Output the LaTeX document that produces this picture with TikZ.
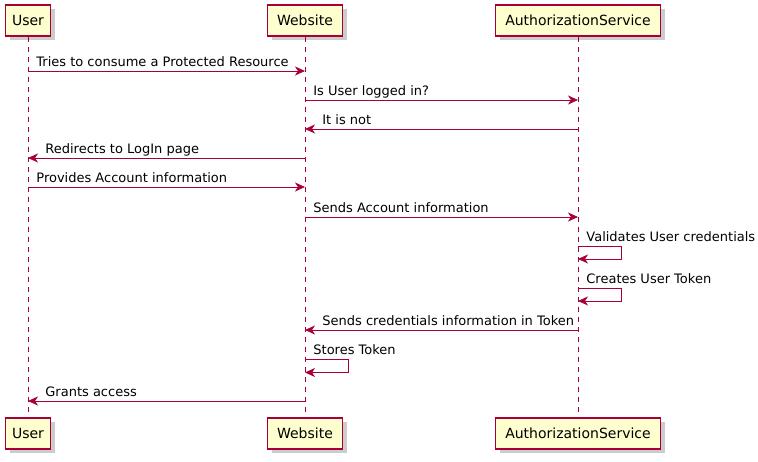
\documentclass[tikz,border=0pt]{standalone}
\usepackage{fontspec}
\setmainfont{DejaVu Sans}
\usetikzlibrary{arrows.meta, shadows}
\definecolor{umlred}{HTML}{A80036}
\definecolor{umlfill}{HTML}{FEFECE}

\begin{document}
\begin{tikzpicture}[x=1pt, y=-1pt,
                actor/.style = {
                    rectangle, draw=umlred, fill=umlfill,
                    line width=1.1pt, inner sep=0pt,
                    minimum height=31pt, text centered,
                    font=\fontsize{14}{16}\selectfont,
                    drop shadow={shadow xshift=4pt, shadow yshift=-4pt,
                        fill=black!40, opacity=.5}
                },
                life/.style = {
                    draw=umlred, line width=.8pt,
                    dash pattern=on 5pt off 5pt
                },
                arrow/.style = {
                    draw=umlred, line width=.8pt,
                    -{Stealth[length=10pt, width=9pt, inset=3pt]}
                },
                lbl/.style = {
                    anchor=base west, inner sep=0pt, yshift=4.8pt,
                    font=\fontsize{13}{15}\selectfont
                }
                ]

                \useasboundingbox (0,0) rectangle (758,462);

                % participants, top and bottom
                \node[actor, minimum width=45pt] (user) at (28,20.5) {User};
                \node[actor, minimum width=75pt] (site) at (305,20.5) {Website};
                \node[actor, minimum width=165pt] (auth) at (578,20.5) {AuthorizationService};
                \node[actor, minimum width=45pt] (userB) at (28,433.5) {User};
                \node[actor, minimum width=75pt] (siteB) at (305,433.5) {Website};
                \node[actor, minimum width=165pt] (authB) at (578,433.5) {AuthorizationService};

                \path[life] (user)--(userB);
                \path[life] (site)--(siteB);
                \path[life] (auth)--(authB);

                % message rows
                \coordinate (r1) at (0,71);
                \coordinate (r2) at (0,100);
                \coordinate (r3) at (0,129);
                \coordinate (r4) at (0,158);
                \coordinate (r5) at (0,187);
                \coordinate (r6) at (0,217);
                \coordinate (r7) at (0,246);
                \coordinate (r8) at (0,288);
                \coordinate (r9) at (0,330);
                \coordinate (r10) at (0,359.5);
                \coordinate (r11) at (0,401);

                \path[arrow] (user |- r1)--(site |- r1) node[lbl, at start, xshift=8pt] {Tries to consume a Protected Resource};
                \path[arrow] (site |- r2)--(auth |- r2) node[lbl, at start, xshift=8pt] {Is User logged in?};
                \path[arrow] (auth |- r3)--(site |- r3) node[lbl, at end, xshift=17pt] {It is not};
                \path[arrow] (site |- r4)--(user |- r4) node[lbl, at end, xshift=17pt] {Redirects to LogIn page};
                \path[arrow] (user |- r5)--(site |- r5) node[lbl, at start, xshift=8pt] {Provides Account information};
                \path[arrow] (site |- r6)--(auth |- r6) node[lbl, at start, xshift=8pt] {Sends Account information};
                \path[arrow] (auth |- r7) node[lbl, xshift=8pt] {Validates User credentials} -- ++(43,0) -- ++(0,13) -- ++(-43,0);
                \path[arrow] (auth |- r8) node[lbl, xshift=8pt] {Creates User Token} -- ++(43,0) -- ++(0,13) -- ++(-43,0);
                \path[arrow] (auth |- r9)--(site |- r9) node[lbl, at end, xshift=17pt] {Sends credentials information in Token};
                \path[arrow] (site |- r10) node[lbl, xshift=8pt] {Stores Token} -- ++(43,0) -- ++(0,13) -- ++(-43,0);
                \path[arrow] (site |- r11)--(user |- r11) node[lbl, at end, xshift=17pt] {Grants access};
            \end{tikzpicture}
\end{document}
